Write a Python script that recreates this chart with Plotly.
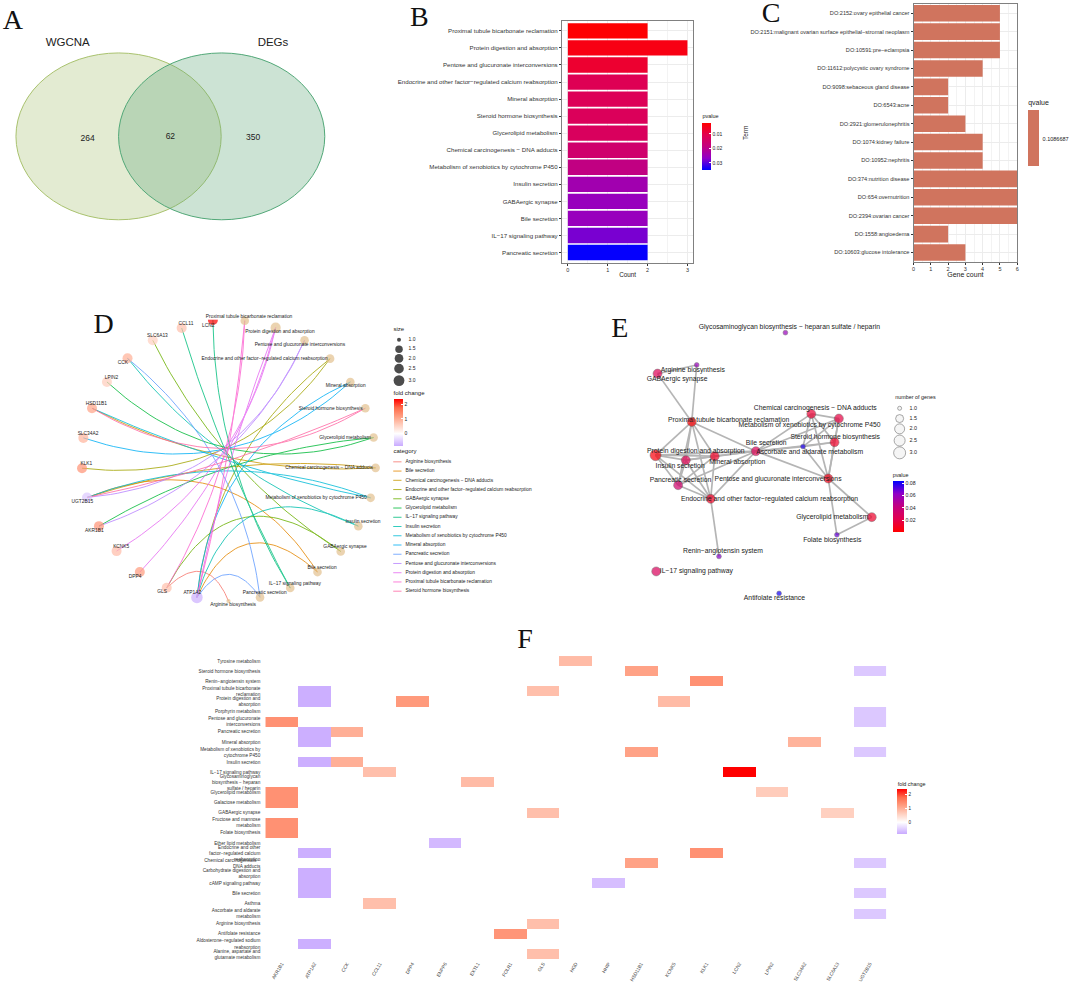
import numpy as np
import plotly.graph_objects as go

W, H = 1072, 984
FONT = "Liberation Sans"
SERIF = "Liberation Serif"

# ---------- data ----------
venn_names = ["WGCNA", "DEGs"]
venn_counts = [264, 62, 350]

kegg_terms = ["Proximal tubule bicarbonate reclamation", "Protein digestion and absorption",
              "Pentose and glucuronate interconversions", "Endocrine and other factor−regulated calcium reabsorption",
              "Mineral absorption", "Steroid hormone biosynthesis", "Glycerolipid metabolism",
              "Chemical carcinogenesis − DNA adducts", "Metabolism of xenobiotics by cytochrome P450",
              "Insulin secretion", "GABAergic synapse", "Bile secretion", "IL−17 signaling pathway",
              "Pancreatic secretion"]
kegg_count = [2, 3, 2, 2, 2, 2, 2, 2, 2, 2, 2, 2, 2, 2]
kegg_p = [0.0027, 0.0045, 0.0075, 0.0115, 0.012, 0.0125, 0.013, 0.0155, 0.019, 0.024, 0.0255, 0.0255, 0.028, 0.0345]

do_terms = ["DO:2152:ovary epithelial cancer", "DO:2151:malignant ovarian surface epithelial−stromal neoplasm",
            "DO:10591:pre−eclampsia", "DO:11612:polycystic ovary syndrome", "DO:9098:sebaceous gland disease",
            "DO:6543:acne", "DO:2921:glomerulonephritis", "DO:1074:kidney failure", "DO:10952:nephritis",
            "DO:374:nutrition disease", "DO:654:overnutrition", "DO:2394:ovarian cancer",
            "DO:1558:angioedema", "DO:10603:glucose intolerance"]
do_count = [5, 5, 5, 4, 2, 2, 3, 4, 4, 6, 6, 6, 2, 3]
do_q = [0.1086687] * 14

genes = ["AKR1B1", "ATP1A2", "CCK", "CCL11", "DPP4", "ENPP6", "EXTL1", "FOLR1", "GLS", "HGD", "HHIP",
         "HSD11B1", "KCNK5", "KLK1", "LCN2", "LPIN2", "SLC34A2", "SLC6A13", "UGT2B15"]
gene_fc = [1.35, -0.8, 1.0, 0.8, 1.25, -0.7, 0.85, 1.3, 0.8, 0.85, -0.65,
           1.15, 0.85, 1.35, 2.4, 0.65, 0.95, 0.6, -0.55]

heat_terms = ["Tyrosine metabolism", "Steroid hormone biosynthesis", "Renin−angiotensin system",
              "Proximal tubule bicarbonate reclamation", "Protein digestion and absorption", "Porphyrin metabolism",
              "Pentose and glucuronate interconversions", "Pancreatic secretion", "Mineral absorption",
              "Metabolism of xenobiotics by cytochrome P450", "Insulin secretion", "IL−17 signaling pathway",
              "Glycosaminoglycan biosynthesis − heparan sulfate / heparin", "Glycerolipid metabolism",
              "Galactose metabolism", "GABAergic synapse", "Fructose and mannose metabolism", "Folate biosynthesis",
              "Ether lipid metabolism", "Endocrine and other factor−regulated calcium reabsorption",
              "Chemical carcinogenesis − DNA adducts", "Carbohydrate digestion and absorption",
              "cAMP signaling pathway", "Bile secretion", "Asthma", "Ascorbate and aldarate metabolism",
              "Arginine biosynthesis", "Antifolate resistance", "Aldosterone−regulated sodium reabsorption",
              "Alanine, aspartate and glutamate metabolism"]
heat_labels = ["Tyrosine metabolism", "Steroid hormone biosynthesis", "Renin−angiotensin system",
               "Proximal tubule bicarbonate<br>reclamation", "Protein digestion and<br>absorption", "Porphyrin metabolism",
               "Pentose and glucuronate<br>interconversions", "Pancreatic secretion", "Mineral absorption",
               "Metabolism of xenobiotics by<br>cytochrome P450", "Insulin secretion", "IL−17 signaling pathway",
               "Glycosaminoglycan<br>biosynthesis − heparan<br>sulfate / heparin", "Glycerolipid metabolism",
               "Galactose metabolism", "GABAergic synapse", "Fructose and mannose<br>metabolism", "Folate biosynthesis",
               "Ether lipid metabolism", "Endocrine and other<br>factor−regulated calcium<br>reabsorption",
               "Chemical carcinogenesis −<br>DNA adducts", "Carbohydrate digestion and<br>absorption",
               "cAMP signaling pathway", "Bile secretion", "Asthma", "Ascorbate and aldarate<br>metabolism",
               "Arginine biosynthesis", "Antifolate resistance", "Aldosterone−regulated sodium<br>reabsorption",
               "Alanine, aspartate and<br>glutamate metabolism"]
term_genes = {
    "Tyrosine metabolism": ["HGD"],
    "Steroid hormone biosynthesis": ["HSD11B1", "UGT2B15"],
    "Renin−angiotensin system": ["KLK1"],
    "Proximal tubule bicarbonate reclamation": ["ATP1A2", "GLS"],
    "Protein digestion and absorption": ["ATP1A2", "DPP4", "KCNK5"],
    "Porphyrin metabolism": ["UGT2B15"],
    "Pentose and glucuronate interconversions": ["AKR1B1", "UGT2B15"],
    "Pancreatic secretion": ["ATP1A2", "CCK"],
    "Mineral absorption": ["ATP1A2", "SLC34A2"],
    "Metabolism of xenobiotics by cytochrome P450": ["HSD11B1", "UGT2B15"],
    "Insulin secretion": ["ATP1A2", "CCK"],
    "IL−17 signaling pathway": ["CCL11", "LCN2"],
    "Glycosaminoglycan biosynthesis − heparan sulfate / heparin": ["EXTL1"],
    "Glycerolipid metabolism": ["AKR1B1", "LPIN2"],
    "Galactose metabolism": ["AKR1B1"],
    "GABAergic synapse": ["GLS", "SLC6A13"],
    "Fructose and mannose metabolism": ["AKR1B1"],
    "Folate biosynthesis": ["AKR1B1"],
    "Ether lipid metabolism": ["ENPP6"],
    "Endocrine and other factor−regulated calcium reabsorption": ["ATP1A2", "KLK1"],
    "Chemical carcinogenesis − DNA adducts": ["HSD11B1", "UGT2B15"],
    "Carbohydrate digestion and absorption": ["ATP1A2"],
    "cAMP signaling pathway": ["ATP1A2", "HHIP"],
    "Bile secretion": ["ATP1A2", "UGT2B15"],
    "Asthma": ["CCL11"],
    "Ascorbate and aldarate metabolism": ["UGT2B15"],
    "Arginine biosynthesis": ["GLS"],
    "Antifolate resistance": ["FOLR1"],
    "Aldosterone−regulated sodium reabsorption": ["ATP1A2"],
    "Alanine, aspartate and glutamate metabolism": ["GLS"],
}

# category order of the gene-concept network legend
d_categories = ["Arginine biosynthesis", "Bile secretion", "Chemical carcinogenesis − DNA adducts",
                "Endocrine and other factor−regulated calcium reabsorption", "GABAergic synapse",
                "Glycerolipid metabolism", "IL−17 signaling pathway", "Insulin secretion",
                "Metabolism of xenobiotics by cytochrome P450", "Mineral absorption", "Pancreatic secretion",
                "Pentose and glucuronate interconversions", "Protein digestion and absorption",
                "Proximal tubule bicarbonate reclamation", "Steroid hormone biosynthesis"]
d_colors = ["#F8766D", "#E58700", "#C99800", "#A3A500", "#6BB100", "#00BA38", "#00BF7D", "#00C0AF",
            "#00BCD8", "#00B0F6", "#619CFF", "#B983FF", "#E76BF3", "#FD61D1", "#FF67A4"]

# graph layout of panel D: (node x, node y, label x, label y), crop units
d_gene_nodes = {
    "LCN2": (485, 61, 471, 77), "CCL11": (391, 85, 404, 71), "SLC6A13": (304, 122, 318, 109),
    "CCK": (228, 176, 214, 190), "LPIN2": (166, 247, 180, 234), "HSD11B1": (121, 326, 134, 314),
    "SLC34A2": (95, 415, 109, 402), "KLK1": (91, 506, 104, 492), "UGT2B15": (106, 594, 92, 608),
    "AKR1B1": (142, 680, 128, 693), "KCNK5": (195, 755, 209, 742), "DPP4": (265, 818, 251, 831),
    "GLS": (346, 865, 332, 878), "ATP1A2": (437, 894, 423, 881)}
d_term_nodes = {
    "Proximal tubule bicarbonate reclamation": (581, 63, 594, 51),
    "Protein digestion and absorption": (674, 84, 687, 97),
    "Pentose and glucuronate interconversions": (761, 122, 747, 135),
    "Endocrine and other factor−regulated calcium reabsorption": (838, 177, 641, 177),
    "Mineral absorption": (899, 247, 885, 260),
    "Steroid hormone biosynthesis": (944, 326, 840, 327),
    "Glycerolipid metabolism": (969, 414, 883, 414),
    "Chemical carcinogenesis − DNA adducts": (975, 505, 835, 506),
    "Metabolism of xenobiotics by cytochrome P450": (960, 595, 796, 596),
    "Insulin secretion": (923, 680, 937, 668),
    "GABAergic synapse": (870, 756, 883, 743),
    "Bile secretion": (800, 818, 814, 806),
    "IL−17 signaling pathway": (718, 866, 732, 852),
    "Pancreatic secretion": (627, 894, 641, 881),
    "Arginine biosynthesis": (532, 905, 546, 917)}

# graph layout of panel E: (node x, node y, label x, label y), crop units
e_nodes = {
    "Glycosaminoglycan biosynthesis − heparan sulfate / heparin": (559, 69, 571, 54),
    "Arginine biosynthesis": (292, 166, 280, 182),
    "GABAergic synapse": (174, 192, 233, 209),
    "Proximal tubule bicarbonate reclamation": (277, 337, 388, 331),
    "Chemical carcinogenesis − DNA adducts": (637, 313, 649, 297),
    "Metabolism of xenobiotics by cytochrome P450": (720, 327, 632, 348),
    "Steroid hormone biosynthesis": (707, 398, 709, 383),
    "Ascorbate and aldarate metabolism": (612, 411, 632, 427),
    "Bile secretion": (470, 425, 501, 400),
    "Protein digestion and absorption": (168, 437, 289, 426),
    "Insulin secretion": (259, 452, 242, 469),
    "Mineral absorption": (346, 440, 414, 457),
    "Pancreatic secretion": (236, 527, 243, 512),
    "Pentose and glucuronate interconversions": (688, 507, 537, 509),
    "Endocrine and other factor−regulated calcium reabsorption": (334, 568, 511, 569),
    "Glycerolipid metabolism": (819, 623, 700, 624),
    "Folate biosynthesis": (714, 676, 700, 692),
    "Renin−angiotensin system": (359, 741, 371, 727),
    "IL−17 signaling pathway": (170, 786, 291, 787),
    "Antifolate resistance": (540, 852, 526, 868)}
e_extra_p = {"Glycosaminoglycan biosynthesis − heparan sulfate / heparin": 0.06, "Arginine biosynthesis": 0.06,
             "Ascorbate and aldarate metabolism": 0.08, "Folate biosynthesis": 0.07,
             "Renin−angiotensin system": 0.065, "Antifolate resistance": 0.082}
e_edges = [
    ("GABAergic synapse", "Arginine biosynthesis"), ("Arginine biosynthesis", "Proximal tubule bicarbonate reclamation"),
    ("GABAergic synapse", "Proximal tubule bicarbonate reclamation"),
    ("Proximal tubule bicarbonate reclamation", "Protein digestion and absorption"),
    ("Proximal tubule bicarbonate reclamation", "Insulin secretion"),
    ("Proximal tubule bicarbonate reclamation", "Mineral absorption"),
    ("Proximal tubule bicarbonate reclamation", "Pancreatic secretion"),
    ("Proximal tubule bicarbonate reclamation", "Endocrine and other factor−regulated calcium reabsorption"),
    ("Proximal tubule bicarbonate reclamation", "Bile secretion"),
    ("Protein digestion and absorption", "Insulin secretion"), ("Protein digestion and absorption", "Mineral absorption"),
    ("Protein digestion and absorption", "Pancreatic secretion"),
    ("Protein digestion and absorption", "Endocrine and other factor−regulated calcium reabsorption"),
    ("Protein digestion and absorption", "Bile secretion"),
    ("Insulin secretion", "Mineral absorption"), ("Insulin secretion", "Pancreatic secretion"),
    ("Insulin secretion", "Endocrine and other factor−regulated calcium reabsorption"),
    ("Insulin secretion", "Bile secretion"), ("Mineral absorption", "Pancreatic secretion"),
    ("Mineral absorption", "Endocrine and other factor−regulated calcium reabsorption"),
    ("Mineral absorption", "Bile secretion"),
    ("Pancreatic secretion", "Endocrine and other factor−regulated calcium reabsorption"),
    ("Pancreatic secretion", "Bile secretion"),
    ("Endocrine and other factor−regulated calcium reabsorption", "Bile secretion"),
    ("Endocrine and other factor−regulated calcium reabsorption", "Renin−angiotensin system"),
    ("Bile secretion", "Chemical carcinogenesis − DNA adducts"),
    ("Bile secretion", "Metabolism of xenobiotics by cytochrome P450"),
    ("Bile secretion", "Steroid hormone biosynthesis"), ("Bile secretion", "Ascorbate and aldarate metabolism"),
    ("Bile secretion", "Pentose and glucuronate interconversions"),
    ("Chemical carcinogenesis − DNA adducts", "Metabolism of xenobiotics by cytochrome P450"),
    ("Chemical carcinogenesis − DNA adducts", "Steroid hormone biosynthesis"),
    ("Chemical carcinogenesis − DNA adducts", "Pentose and glucuronate interconversions"),
    ("Chemical carcinogenesis − DNA adducts", "Ascorbate and aldarate metabolism"),
    ("Metabolism of xenobiotics by cytochrome P450", "Steroid hormone biosynthesis"),
    ("Metabolism of xenobiotics by cytochrome P450", "Pentose and glucuronate interconversions"),
    ("Metabolism of xenobiotics by cytochrome P450", "Ascorbate and aldarate metabolism"),
    ("Steroid hormone biosynthesis", "Pentose and glucuronate interconversions"),
    ("Steroid hormone biosynthesis", "Ascorbate and aldarate metabolism"),
    ("Pentose and glucuronate interconversions", "Ascorbate and aldarate metabolism"),
    ("Pentose and glucuronate interconversions", "Glycerolipid metabolism"),
    ("Pentose and glucuronate interconversions", "Folate biosynthesis"),
    ("Folate biosynthesis", "Glycerolipid metabolism")]

legend_sizes = [1.0, 1.5, 2.0, 2.5, 3.0]

# ---------- styles ----------
P_STOPS = [[0, "#0000FF"], [0.25, "#9000C8"], [0.5, "#C3007F"], [0.75, "#E2004E"], [1, "#FF0000"]]
P_STOPS_REV = [[1 - s, c] for s, c in P_STOPS][::-1]
FC_MIN, FC_MAX = -0.85, 2.4
z0 = -FC_MIN / (FC_MAX - FC_MIN)
FC_STOPS = [[0, "#C9AAFF"], [z0, "#FFFFFF"], [z0 + (1 - z0) * 0.25, "#FFD0C0"],
            [z0 + (1 - z0) * 0.5, "#FF9E81"], [z0 + (1 - z0) * 0.75, "#FF6B4A"], [1, "#FF0000"]]
BAR_C = "#D0745E"
TXT = "#222222"
TICK = "#333333"
GRID = "#ececec"
BOX = "#808080"
D_SIZE = {1: 4.2, 2: 8.6, 3: 10.2}
E_SIZE = {1: 4.8, 2: 9, 3: 11}
LEG_D = {1.0: 4, 1.5: 7.5, 2.0: 8.7, 2.5: 9.6, 3.0: 10.8}
LEG_E = {1.0: 4, 1.5: 8, 2.0: 10, 2.5: 11, 3.0: 12}
ARC_K = 0.0027


def dom_x(a, b):
    return [a / W, b / W]


def dom_y(t, b):
    return [1 - b / H, 1 - t / H]


def d_xy(x, y):
    return 50 + x / 3, 300 + y / 3


def e_xy(x, y):
    return 600 + x / 3, 310 + y / 3


fig = go.Figure()


def add_text(xs, ys, texts, size, color=TXT, family=FONT, pos="middle center"):
    fig.add_trace(go.Scatter(x=xs, y=ys, text=texts, mode="text", textposition=pos, cliponaxis=False,
                             textfont=dict(size=size, color=color, family=family),
                             hoverinfo="skip", showlegend=False, xaxis="x", yaxis="y"))


# ---------- panel A ----------
shapes = [
    dict(type="circle", xref="x", yref="y", x0=14, x1=220, y0=53, y1=220, layer="below",
         fillcolor="rgba(170,194,118,0.33)", line=dict(color="#A9C26E", width=1)),
    dict(type="circle", xref="x", yref="y", x0=117, x1=324, y0=53, y1=220, layer="below",
         fillcolor="rgba(100,170,125,0.33)", line=dict(color="#52A878", width=1)),
]
add_text([66, 272], [43, 43], venn_names, 11.5)
add_text([86, 169, 252], [139, 137, 138], [str(v) for v in venn_counts], 8.5)

# ---------- panel B ----------
fig.add_trace(go.Bar(y=kegg_terms, x=kegg_count, orientation="h", width=0.9, xaxis="x2", yaxis="y2",
                     marker=dict(color=[-p for p in kegg_p], coloraxis="coloraxis", line=dict(width=0)),
                     hoverinfo="skip", showlegend=False))

# ---------- panel C ----------
fig.add_trace(go.Bar(y=do_terms, x=do_count, orientation="h", width=0.9, xaxis="x3", yaxis="y3",
                     marker=dict(color=do_q, coloraxis="coloraxis2", line=dict(width=0)),
                     hoverinfo="skip", showlegend=False))

# ---------- panel D ----------
d_cx, d_cy = d_xy(530, 490)
for cat, col in zip(d_categories, d_colors):
    xs, ys = [], []
    tx, ty = d_xy(*d_term_nodes[cat][:2])
    for g in term_genes[cat]:
        gx, gy = d_xy(*d_gene_nodes[g][:2])
        mx, my = (gx + tx) / 2, (gy + ty) / 2
        chord = np.hypot(tx - gx, ty - gy)
        nx, ny = -(ty - gy) / chord, (tx - gx) / chord
        dist = (d_cx - mx) * nx + (d_cy - my) * ny
        sag = ARC_K * chord * dist
        cx, cy = mx + nx * 2 * sag, my + ny * 2 * sag
        t = np.linspace(0, 1, 40)
        xs += list((1 - t) ** 2 * gx + 2 * t * (1 - t) * cx + t ** 2 * tx) + [None]
        ys += list((1 - t) ** 2 * gy + 2 * t * (1 - t) * cy + t ** 2 * ty) + [None]
    fig.add_trace(go.Scatter(x=xs, y=ys, mode="lines", line=dict(color=col, width=1), opacity=0.8,
                             hoverinfo="skip", showlegend=False, xaxis="x", yaxis="y"))

d_term_pts = [d_xy(*v[:2]) for v in d_term_nodes.values()]
fig.add_trace(go.Scatter(x=[p[0] for p in d_term_pts], y=[p[1] for p in d_term_pts], mode="markers",
                         marker=dict(color="#E2C18F", line=dict(width=0),
                                     size=[D_SIZE[len(term_genes[t])] for t in d_term_nodes]),
                         hoverinfo="skip", showlegend=False, xaxis="x", yaxis="y"))
d_gene_pts = [d_xy(*v[:2]) for v in d_gene_nodes.values()]
fig.add_trace(go.Scatter(x=[p[0] for p in d_gene_pts], y=[p[1] for p in d_gene_pts], mode="markers",
                         marker=dict(color=[gene_fc[genes.index(g)] for g in d_gene_nodes],
                                     coloraxis="coloraxis3", line=dict(width=0),
                                     size=[11.5 if g == "ATP1A2" else 10 for g in d_gene_nodes]),
                         hoverinfo="skip", showlegend=False, xaxis="x", yaxis="y"))
# the LCN2 node is clipped flat at the top of its panel in the reference
clip_x, clip_y = d_xy(485, 42)
fig.add_trace(go.Scatter(x=[clip_x], y=[clip_y], mode="markers",
                         marker=dict(color="white", symbol="square", size=12, line=dict(width=0)),
                         hoverinfo="skip", showlegend=False, xaxis="x", yaxis="y"))
lab = [d_xy(*v[2:]) for v in list(d_gene_nodes.values()) + list(d_term_nodes.values())]
add_text([p[0] for p in lab], [p[1] for p in lab], list(d_gene_nodes) + list(d_term_nodes), 4.85)

# D legends
add_text([393], [330], ["size"], 6, pos="middle right")
leg_y_d = [340, 349.5, 358.8, 369, 381]
fig.add_trace(go.Scatter(x=[398.5] * 5, y=leg_y_d, mode="markers",
                         marker=dict(color="black", size=[LEG_D[s] for s in legend_sizes], line=dict(width=0)),
                         hoverinfo="skip", showlegend=False, xaxis="x", yaxis="y"))
add_text([408] * 5, leg_y_d, [f"{s:.1f}" for s in legend_sizes], 5, pos="middle right")
add_text([393], [394], ["fold change"], 6, pos="middle right")
add_text([393], [452], ["category"], 6, pos="middle right")
leg_cat_y = [462.3 + 9.25 * i for i in range(len(d_categories))]
for y_, col in zip(leg_cat_y, d_colors):
    fig.add_trace(go.Scatter(x=[392.7, 401], y=[y_, y_], mode="lines", line=dict(color=col, width=1), opacity=0.8,
                             hoverinfo="skip", showlegend=False, xaxis="x", yaxis="y"))
add_text([405] * len(d_categories), leg_cat_y, d_categories, 4.85, pos="middle right")

# ---------- panel E ----------
ex, ey = [], []
for a, b in e_edges:
    ax_, ay_ = e_xy(*e_nodes[a][:2])
    bx_, by_ = e_xy(*e_nodes[b][:2])
    ex += [ax_, bx_, None]
    ey += [ay_, by_, None]
fig.add_trace(go.Scatter(x=ex, y=ey, mode="lines", line=dict(color="#B5B5B5", width=1.7),
                         hoverinfo="skip", showlegend=False, xaxis="x", yaxis="y"))
e_p = [kegg_p[kegg_terms.index(t)] if t in kegg_terms else e_extra_p[t] for t in e_nodes]
e_pts = [e_xy(*v[:2]) for v in e_nodes.values()]
fig.add_trace(go.Scatter(x=[p[0] for p in e_pts], y=[p[1] for p in e_pts], mode="markers",
                         marker=dict(color=e_p, coloraxis="coloraxis5", line=dict(color="#444444", width=0.5),
                                     size=[E_SIZE[len(term_genes[t])] for t in e_nodes]),
                         hoverinfo="skip", showlegend=False, xaxis="x", yaxis="y"))
lab = [e_xy(*v[2:]) for v in e_nodes.values()]
add_text([p[0] for p in lab], [p[1] for p in lab], list(e_nodes), 6.8)
add_text([917], [398], ["number of genes"], 5.4)
leg_y_e = [408.7, 419, 429.3, 441, 453.3]
fig.add_trace(go.Scatter(x=[901] * 5, y=leg_y_e, mode="markers",
                         marker=dict(color="#F2F2F2", size=[LEG_E[s] for s in legend_sizes],
                                     line=dict(color="#333333", width=0.6)),
                         hoverinfo="skip", showlegend=False, xaxis="x", yaxis="y"))
add_text([911] * 5, leg_y_e, [f"{s:.1f}" for s in legend_sizes], 5.4, pos="middle right")
add_text([894], [476], ["pvalue"], 5.4, pos="middle right")

# ---------- panel F ----------
heat_z = [[gene_fc[genes.index(g)] if g in term_genes[t] else None for g in genes] for t in heat_terms]
fig.add_trace(go.Heatmap(x=genes, y=heat_terms, z=heat_z, coloraxis="coloraxis4", xaxis="x4", yaxis="y4",
                         hoverinfo="skip", showscale=False))
add_text([899], [785], ["fold change"], 5.4, pos="middle right")

# legend titles of B and C, axis titles, panel letters
add_text([703], [117], ["pvalue"], 5.5, pos="middle right")
add_text([1030], [103], ["qvalue"], 7, pos="middle right")
add_text([628], [276], ["Count"], 6.3)
add_text([967], [276], ["Gene count"], 7)
add_text([11, 419, 772, 102, 620, 525], [22, 19, 15, 326, 330, 642], list("ABCDEF"), 28, color="#111111", family=SERIF)

fig.add_annotation(x=747, y=133, xref="x", yref="y", text="Term", textangle=-90, showarrow=False,
                   font=dict(size=6.5, color=TXT, family=FONT))


def cbar(x, top, length, thick, tickvals, ticktext=None, size=5, ticks="inside", tickcolor="white", ticklen=2):
    d = dict(x=x / W, xanchor="left", xpad=0, ypad=0, y=1 - top / H, yanchor="top", lenmode="pixels", len=length,
             thicknessmode="pixels", thickness=thick, outlinewidth=0, ticks=ticks, ticklen=ticklen, tickwidth=0.5,
             tickcolor=tickcolor, tickvals=tickvals, tickfont=dict(size=size, color=TXT, family=FONT))
    if ticktext is not None:
        d["ticktext"] = ticktext
    return d


axis_common = dict(showline=True, linecolor=BOX, linewidth=1, mirror=True, ticks="outside", ticklen=2,
                   tickwidth=0.6, tickcolor=TICK, zeroline=False)

fig.update_layout(
    width=W, height=H, margin=dict(l=0, r=0, t=0, b=0), autosize=False,
    paper_bgcolor="white", plot_bgcolor="white", showlegend=False, shapes=shapes,
    xaxis=dict(domain=[0, 1], range=[0, W], visible=False, fixedrange=True),
    yaxis=dict(domain=[0, 1], range=[H, 0], visible=False, fixedrange=True),
    xaxis2=dict(domain=dom_x(562, 694), range=[-0.15, 3.15], anchor="y2", tickvals=[0, 1, 2, 3],
                tickfont=dict(size=5.5, color=TICK, family=FONT), showgrid=True, gridcolor=GRID, gridwidth=0.6,
                minor=dict(dtick=0.5, showgrid=True, gridcolor="#f3f3f3", gridwidth=0.4), **axis_common),
    yaxis2=dict(domain=dom_y(20.7, 263), range=[13.6, -0.6], anchor="x2", type="category",
                categoryorder="array", categoryarray=kegg_terms, showgrid=True, gridcolor=GRID, gridwidth=0.6,
                tickfont=dict(size=6.15, color=TICK, family=FONT), **axis_common),
    xaxis3=dict(domain=dom_x(915, 1019), range=[0, 6], anchor="y3", tickvals=list(range(7)),
                tickfont=dict(size=5.5, color=TICK, family=FONT), showgrid=True, gridcolor=GRID, gridwidth=0.6,
                minor=dict(dtick=0.5, showgrid=True, gridcolor="#f3f3f3", gridwidth=0.4), **axis_common),
    yaxis3=dict(domain=dom_y(4, 262), range=[13.5, -0.5], anchor="x3", type="category",
                categoryorder="array", categoryarray=do_terms, showgrid=True, gridcolor=GRID, gridwidth=0.6,
                tickfont=dict(size=5.6, color=TICK, family=FONT), **axis_common),
    xaxis4=dict(domain=dom_x(264.3, 887.5), anchor="y4", type="category", categoryorder="array", categoryarray=genes,
                range=[-0.5, 18.5], tickangle=-60, showgrid=False, zeroline=False, showline=False, ticks="",
                tickfont=dict(size=4.8, color="#444444", family=FONT)),
    yaxis4=dict(domain=dom_y(656.7, 960), anchor="x4", type="category", categoryorder="array",
                categoryarray=heat_terms, range=[29.5, -0.5], tickmode="array", tickvals=heat_terms,
                ticktext=heat_labels, showgrid=False, zeroline=False, showline=False, ticks="", ticklabelstandoff=4,
                tickfont=dict(size=4.7, color="#333333", family=FONT)),
    coloraxis=dict(cmin=-0.0348, cmax=-0.0025, colorscale=P_STOPS,
                   colorbar=cbar(703, 123, 47, 9, [-0.01, -0.02, -0.03], ["0.01", "0.02", "0.03"])),
    coloraxis2=dict(cmin=0.10, cmax=0.118, colorscale=[[0, BAR_C], [1, BAR_C]],
                    colorbar=cbar(1030, 110, 56, 11, [0.1086687], ["0.1086687"], 5.5,
                                  ticks="outside", tickcolor="rgba(0,0,0,0)", ticklen=3)),
    coloraxis3=dict(cmin=FC_MIN, cmax=FC_MAX, colorscale=FC_STOPS,
                    colorbar=cbar(393, 399, 47, 9, [0, 1, 2])),
    coloraxis4=dict(cmin=FC_MIN, cmax=FC_MAX, colorscale=FC_STOPS,
                    colorbar=cbar(898.5, 790, 45, 9.5, [0, 1, 2], size=4.6)),
    coloraxis5=dict(cmin=0.0017, cmax=0.0845, colorscale=P_STOPS_REV,
                    colorbar=cbar(894, 481, 50.7, 11, [0.02, 0.04, 0.06, 0.08], ["0.02", "0.04", "0.06", "0.08"], 5.2)),
)

fig.write_html("out.html", post_script="document.body.style.margin='0';",
               config=dict(displayModeBar=False))
